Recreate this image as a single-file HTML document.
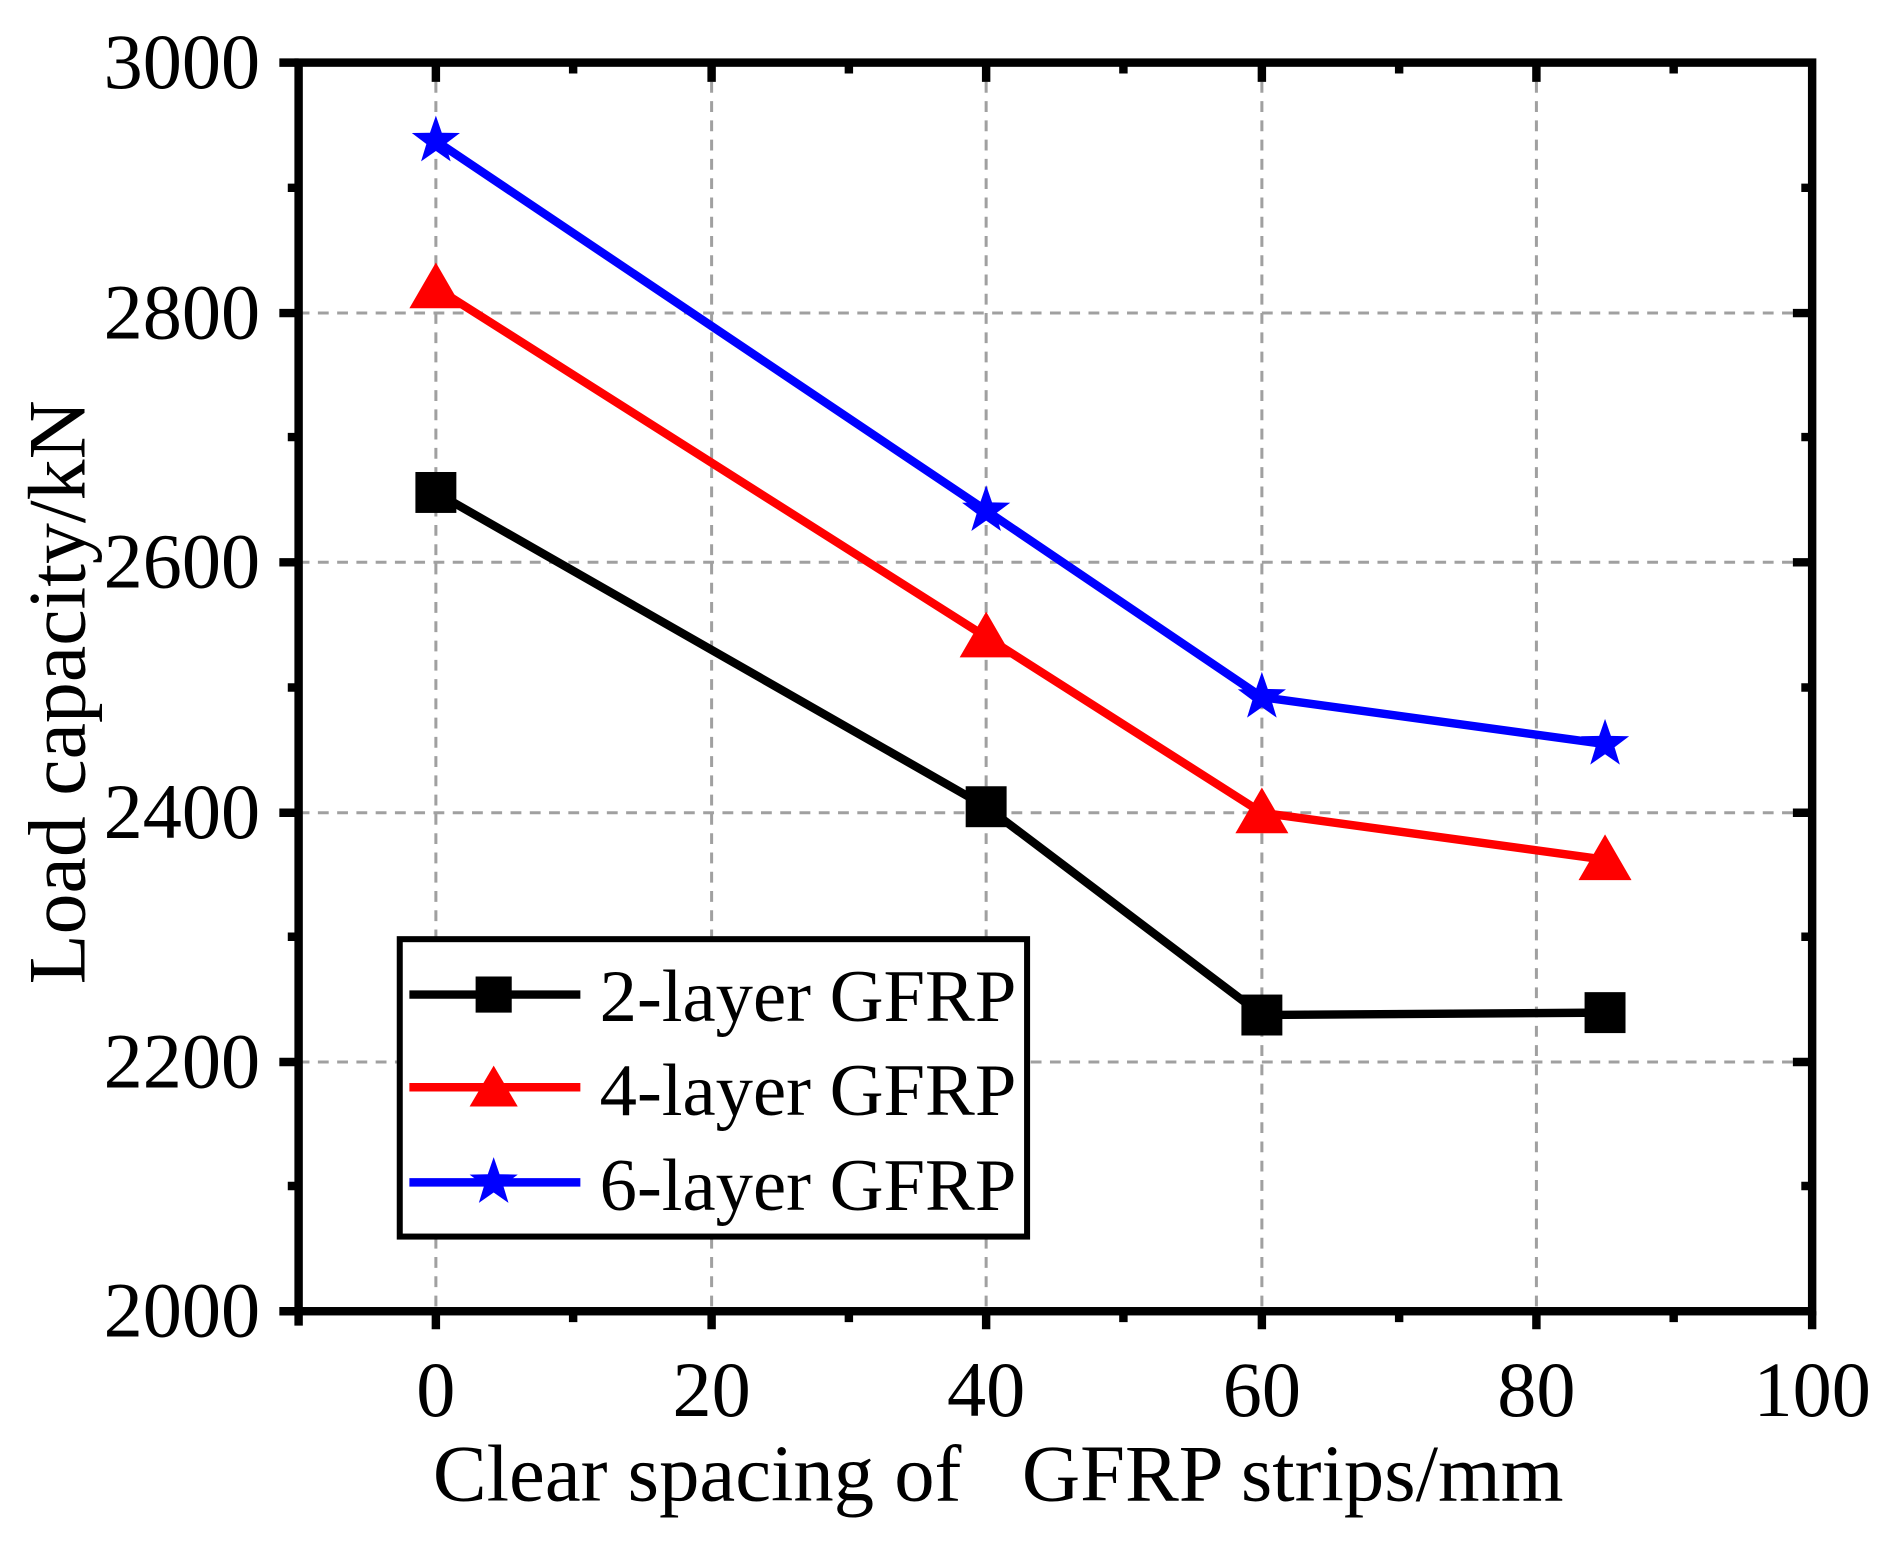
<!DOCTYPE html>
<html><head><style>html,body{margin:0;padding:0;background:#fff}</style></head><body>
<svg width="1888" height="1540" viewBox="0 0 1568 1279" preserveAspectRatio="none" xmlns="http://www.w3.org/2000/svg" font-family="Liberation Serif, serif">
<rect width="1568" height="1279" fill="#fff"/>
<g stroke="#a0a0a0" stroke-width="2.5" stroke-dasharray="9,7">
<line x1="362" y1="52" x2="362" y2="1089"/><line x1="591" y1="52" x2="591" y2="1089"/>
<line x1="819" y1="52" x2="819" y2="1089"/><line x1="1048" y1="52" x2="1048" y2="1089"/>
<line x1="1276" y1="52" x2="1276" y2="1089"/>
<line x1="248" y1="882" x2="1505" y2="882"/><line x1="248" y1="675" x2="1505" y2="675"/>
<line x1="248" y1="467" x2="1505" y2="467"/><line x1="248" y1="260" x2="1505" y2="260"/>
</g>
<g stroke="#000" stroke-width="7">
<rect x="248" y="52" width="1257" height="1037" fill="none"/>
<path d="M362 1089v15M591 1089v15M819 1089v15M1048 1089v15M1276 1089v15M1505 1089v15M248 1089v12M476 1089v9M705 1089v9M933 1089v9M1162 1089v9M1390 1089v9"/>
<path d="M362 52v16M591 52v16M819 52v16M1048 52v16M1276 52v16M476 52v9M705 52v9M933 52v9M1162 52v9M1390 52v9"/>
<path d="M248 1089h-16M248 882h-16M248 675h-16M248 467h-16M248 260h-16M248 52h-16M248 985h-9M248 778h-9M248 571h-9M248 363h-9M248 156h-9"/>
<path d="M1505 882h-16M1505 675h-16M1505 467h-16M1505 260h-16M1505 985h-9M1505 778h-9M1505 571h-9M1505 363h-9M1505 156h-9"/>
</g>
<g font-size="65" text-anchor="end">
<text x="216" y="1110">2000</text><text x="216" y="903">2200</text><text x="216" y="696">2400</text>
<text x="216" y="488">2600</text><text x="216" y="281">2800</text><text x="216" y="73">3000</text>
</g>
<g font-size="65" text-anchor="middle">
<text x="362" y="1176">0</text><text x="591" y="1176">20</text><text x="819" y="1176">40</text>
<text x="1048" y="1176">60</text><text x="1276" y="1176">80</text><text x="1505" y="1176">100</text>
<text x="829" y="1246" font-size="67" xml:space="preserve">Clear spacing of   GFRP strips/mm</text>
<text transform="translate(70 575) rotate(-90)" font-size="68">Load capacity/kN</text>
</g>
<g fill="none" stroke-width="7">
<polyline stroke="#000" points="362,409 819,670 1048,843 1333,841"/>
<polyline stroke="#f00" points="362,239 819,529 1048,675 1333,714"/>
<polyline stroke="#00f" points="362,117 819,424 1048,579 1333,618"/>
</g>
<g fill="#000"><rect x="345" y="392" width="34" height="34"/><rect x="802" y="653" width="34" height="34"/><rect x="1031" y="826" width="34" height="34"/><rect x="1316" y="824" width="34" height="34"/></g>
<g fill="#f00"><path d="M362 218l22 38h-44z"/><path d="M819 508l22 38h-44z"/><path d="M1048 654l22 38h-44z"/><path d="M1333 693l22 38h-44z"/></g>
<defs><path id="st" d="M0-21L4.9-6.8 20-6.5 7.9 2.6 12.3 17 0 8.4-12.3 17-7.9 2.6-20-6.5-4.9-6.8z" fill="#00f"/></defs>
<use href="#st" x="362" y="117"/><use href="#st" x="819" y="424"/><use href="#st" x="1048" y="579"/><use href="#st" x="1333" y="618"/>
<rect x="332" y="780" width="521" height="247" fill="#fff" stroke="#000" stroke-width="5"/>
<line x1="340" y1="826" x2="482" y2="826" stroke="#000" stroke-width="7"/><rect x="395" y="811" width="30" height="30"/>
<line x1="340" y1="903" x2="482" y2="903" stroke="#f00" stroke-width="7"/><path d="M410 885l20 34h-40z" fill="#f00"/>
<line x1="340" y1="982" x2="482" y2="982" stroke="#00f" stroke-width="7"/><use href="#st" x="410" y="982"/>
<g font-size="62"><text x="498" y="848">2-layer GFRP</text><text x="498" y="926">4-layer GFRP</text><text x="498" y="1005">6-layer GFRP</text></g>
</svg>
</body></html>
